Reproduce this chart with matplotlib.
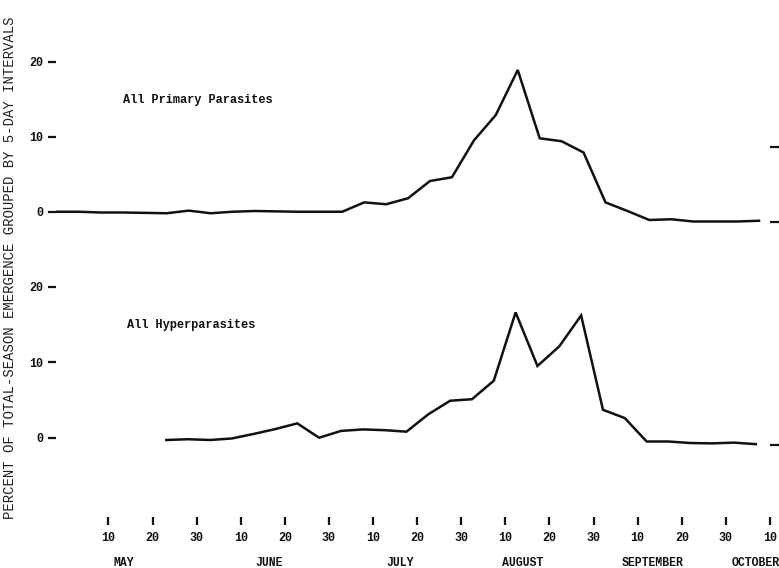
import numpy as np
import matplotlib
matplotlib.use("Agg")
import matplotlib.pyplot as plt
import matplotlib.transforms as mtransforms

# Percent of total-season emergence, one value per 5-day interval
# (interval index 0 = end of April, 32 = early October)
primary_idx = np.arange(0, 33)
primary_pct = [0.0, 0.0, -0.1, -0.1, -0.15, -0.2, 0.15, -0.2, 0.0, 0.1, 0.05,
               0.0, 0.0, 0.0, 1.25, 1.0, 1.8, 4.1, 4.6, 9.5, 12.9, 18.9, 9.8,
               9.4, 7.9, 1.25, 0.1, -1.1, -1.0, -1.3, -1.3, -1.3, -1.2]

hyper_idx = np.arange(5, 33)
hyper_pct = [-0.3, -0.2, -0.3, -0.1, 0.5, 1.15, 1.9, 0.0, 0.9, 1.1, 1.0, 0.8,
             3.1, 4.9, 5.1, 7.55, 16.6, 9.5, 12.1, 16.2, 3.7, 2.6, -0.5, -0.5,
             -0.7, -0.75, -0.65, -0.85]

panel_titles = ["All Primary Parasites", "All Hyperparasites"]
y_ticks = [0, 10, 20]
day_labels = ["10", "20", "30"] * 5 + ["10"]
months = ["MAY", "JUNE", "JULY", "AUGUST", "SEPTEMBER", "OCTOBER"]
y_title = "PERCENT OF TOTAL-SEASON EMERGENCE GROUPED BY 5-DAY INTERVALS"

# layout
tick_pos = 2.35 + 2.02 * np.arange(len(day_labels))
month_pos = [3.05, 9.7, 15.7, 21.3, 27.3, 32.0]
XLIM = (-0.05, 32.5)
FONT = "Liberation Mono"
INK = "#111111"

W, H = 779, 568
fig = plt.figure(figsize=(W / 100, H / 100), dpi=100)

def frac(left, top, right, bottom):
    return [left / W, 1 - bottom / H, (right - left) / W, (bottom - top) / H]

ax_top = fig.add_axes(frac(56, 50.5, 770, 230.5))
ax_bot = fig.add_axes(frac(56, 275.4, 770, 517))
ax_top.set_ylim(-2.5, 21.5)
ax_bot.set_ylim(-10.5, 21.5)

panels = [(ax_top, primary_idx, primary_pct, 1.4, [0, 10], 0.094, 0.725),
          (ax_bot, hyper_idx, hyper_pct, 1.0, [0], 0.0994, 0.795)]

for (ax, xs, ys, shift, rticks, tx, ty), title in zip(panels, panel_titles):
    ax.plot(xs, ys, color=INK, lw=1.8, solid_joinstyle="miter")
    ax.set_xlim(*XLIM)
    for s in ax.spines.values():
        s.set_visible(False)
    ax.set_yticks(y_ticks)
    ax.set_yticklabels([str(v) for v in y_ticks], fontfamily=FONT,
                       fontweight="bold", fontsize=8.5, color=INK)
    ax.tick_params(axis="y", direction="out", length=6, width=1.6,
                   pad=3, color=INK)
    ax.text(tx, ty, title, transform=ax.transAxes, fontfamily=FONT,
            fontweight="bold", fontsize=8.6, color=INK, va="center", ha="left")
    # short reference marks on the right-hand margin
    rax = ax.twinx()
    lo, hi = ax.get_ylim()
    rax.set_ylim(lo + shift, hi + shift)
    rax.set_yticks(rticks)
    rax.set_yticklabels([])
    rax.tick_params(axis="y", direction="out", length=7, width=1.6, color=INK)
    for s in rax.spines.values():
        s.set_visible(False)
    rax.set_xlim(*XLIM)

ax_top.set_xticks([])
ax_bot.set_xticks(tick_pos)
ax_bot.set_xticklabels(day_labels, fontfamily=FONT, fontweight="bold",
                       fontsize=8.5, color=INK)
ax_bot.tick_params(axis="x", direction="out", length=6, width=1.6,
                   pad=5, color=INK)

trans = mtransforms.blended_transform_factory(ax_bot.transData, ax_bot.transAxes)
for pos, name in zip(month_pos, months):
    ax_bot.text(pos, -0.19, name, transform=trans, fontfamily=FONT,
                fontweight="bold", fontsize=8.3, color=INK, ha="center",
                va="center", clip_on=False)

fig.text(10 / W, 1 - 268 / H, y_title, rotation=90, fontfamily=FONT,
         fontsize=10, color="#222222", ha="center", va="center")

fig.savefig("out.png", dpi=100)
